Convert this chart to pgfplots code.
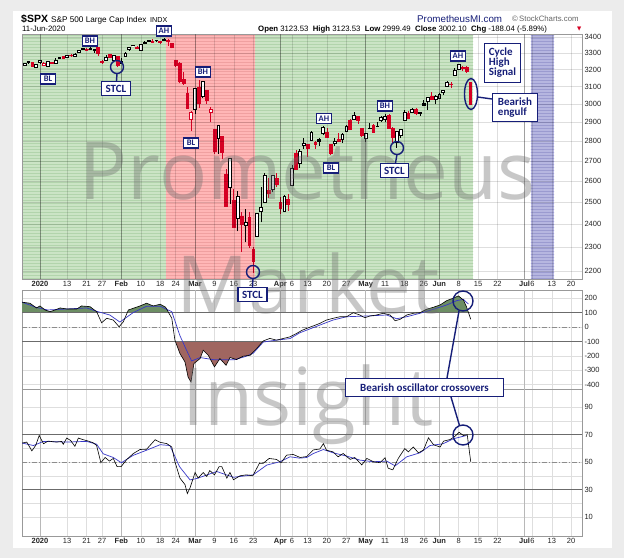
\documentclass[border=0pt]{standalone}
\usepackage{fontspec}
\setmainfont{Liberation Sans}
\newfontfamily\wmfont{Open Sans}
\newfontfamily\anfont{Carlito}
\newfontfamily\dejavu{DejaVu Sans}
\usepackage{pgfplots}
\pgfplotsset{compat=1.18}
\usepackage{pgfplotstable}
\usetikzlibrary{patterns}

\definecolor{framegray}{RGB}{236,236,236}
\definecolor{bggreen}{RGB}{203,228,197}
\definecolor{bggreenl}{RGB}{178,212,172}
\definecolor{bgred}{RGB}{255,182,182}
\definecolor{bgredl}{RGB}{240,160,160}
\definecolor{bgpurple}{RGB}{182,182,224}
\definecolor{bgpurplel}{RGB}{155,155,208}
\definecolor{navy}{RGB}{22,30,120}
\definecolor{cred}{RGB}{214,0,35}
\definecolor{ccigreen}{RGB}{108,142,100}
\definecolor{ccibrown}{RGB}{160,102,96}
\definecolor{sigblue}{RGB}{55,55,200}
\definecolor{wmgray}{RGB}{110,110,110}

\newcommand{\tf}{\fontsize{7.5}{8}\selectfont}

\pgfplotstableread{
i o h l c k
-4 3227.20 3240.08 3227.20 3239.91 1
-3 3247.23 3247.93 3234.37 3240.02 4
-2 3240.09 3240.92 3216.57 3221.29 2
-1 3215.18 3231.72 3212.03 3230.78 1
0 3244.67 3258.14 3235.53 3257.85 1
1 3226.36 3246.15 3222.34 3234.85 3
2 3217.55 3246.84 3214.64 3246.28 1
3 3241.86 3244.91 3232.43 3237.18 2
4 3238.59 3267.07 3236.67 3253.05 1
5 3266.03 3275.58 3263.67 3274.70 1
6 3281.81 3282.99 3262.66 3265.35 2
7 3271.13 3288.13 3268.43 3288.13 1
8 3285.35 3294.25 3277.19 3283.15 2
9 3282.27 3298.66 3280.69 3289.29 1
10 3302.97 3317.11 3302.82 3316.81 1
11 3323.66 3329.88 3318.86 3329.62 1
12 3321.03 3329.79 3316.61 3320.79 2
13 3330.02 3337.77 3320.04 3321.75 4
14 3315.77 3326.88 3301.87 3325.54 1
15 3333.10 3333.18 3281.53 3295.47 2
16 3247.16 3258.85 3234.50 3243.63 2
17 3255.35 3285.78 3253.22 3276.24 1
18 3289.46 3293.47 3271.89 3273.40 2
19 3256.45 3285.91 3242.80 3283.66 1
20 3282.33 3282.33 3214.68 3225.52 2
21 3235.66 3268.44 3235.66 3248.92 1
22 3280.61 3306.92 3280.61 3297.59 1
23 3324.91 3337.58 3313.75 3334.69 1
24 3344.92 3347.96 3334.39 3345.78 1
25 3335.54 3341.42 3322.12 3327.71 2
26 3318.28 3352.26 3317.77 3352.09 1
27 3365.87 3375.63 3352.72 3357.75 4
28 3370.50 3381.47 3369.72 3379.45 1
29 3365.90 3385.09 3360.52 3373.94 3
30 3378.08 3380.69 3366.15 3380.16 1
31 3369.04 3375.01 3355.61 3370.29 3
32 3380.39 3393.52 3378.83 3386.15 1
33 3380.45 3389.15 3341.02 3373.23 2
34 3360.50 3360.76 3328.45 3337.75 2
35 3257.61 3259.81 3214.65 3225.89 2
36 3238.94 3246.99 3118.77 3128.21 2
37 3139.90 3182.51 3108.99 3116.39 2
38 3062.54 3097.07 2977.39 2978.76 2
39 2916.90 2959.72 2855.84 2954.22 3
40 2974.28 3090.96 2945.19 3090.23 1
41 3096.46 3136.72 2976.63 3003.37 2
42 3045.75 3130.97 3034.38 3130.12 1
43 3075.70 3083.04 2999.83 3023.94 2
44 2954.20 2985.93 2901.54 2972.37 3
45 2863.89 2863.89 2734.43 2746.56 2
46 2813.48 2882.59 2734.00 2882.23 1
47 2825.60 2825.60 2707.22 2741.38 2
48 2630.86 2660.95 2478.86 2480.64 2
49 2569.99 2711.33 2492.37 2711.02 1
50 2508.59 2562.98 2380.94 2386.13 2
51 2425.66 2553.93 2367.04 2529.19 1
52 2436.50 2453.57 2280.52 2398.10 2
53 2393.48 2466.97 2319.78 2409.39 1
54 2431.94 2453.01 2295.56 2304.92 2
55 2290.71 2300.73 2191.86 2237.40 2
56 2344.44 2449.71 2344.44 2447.33 1
57 2457.77 2571.42 2407.53 2475.56 1
58 2501.29 2637.01 2500.72 2630.07 1
59 2555.87 2615.91 2520.02 2541.47 2
60 2558.98 2631.80 2545.28 2626.65 1
61 2614.69 2641.39 2571.15 2584.59 2
62 2498.08 2522.75 2447.49 2470.50 2
63 2458.54 2533.22 2455.79 2526.90 1
64 2514.92 2538.18 2459.96 2488.65 2
65 2578.28 2676.85 2574.57 2663.68 1
66 2738.65 2756.89 2657.67 2659.41 2
67 2685.00 2760.75 2663.30 2749.98 1
68 2776.99 2818.57 2762.36 2789.82 1
69 2782.46 2782.46 2721.17 2761.63 2
70 2805.10 2851.85 2805.10 2846.06 1
71 2795.64 2801.88 2761.54 2783.36 2
72 2812.64 2815.83 2775.95 2799.55 4
73 2842.43 2879.22 2830.88 2874.56 1
74 2845.62 2868.98 2820.43 2823.16 2
75 2784.81 2785.54 2727.10 2736.56 2
76 2787.89 2815.10 2775.95 2799.31 1
77 2810.42 2844.90 2794.26 2797.80 2
78 2812.64 2842.71 2791.76 2836.74 1
79 2854.65 2887.72 2852.89 2878.48 1
80 2909.96 2921.15 2860.71 2863.39 2
81 2918.46 2954.86 2912.16 2939.51 1
82 2930.91 2930.91 2892.47 2912.43 2
83 2869.09 2869.09 2821.61 2830.71 2
84 2815.01 2844.24 2797.85 2842.74 1
85 2868.88 2898.23 2863.55 2868.44 4
86 2883.14 2891.11 2847.65 2848.42 2
87 2878.26 2901.92 2876.48 2881.19 1
88 2908.83 2932.16 2902.88 2929.80 1
89 2915.46 2944.25 2903.44 2930.32 1
90 2939.50 2945.82 2869.59 2870.12 2
91 2865.86 2874.14 2793.15 2820.00 2
92 2794.54 2852.80 2766.64 2852.50 1
93 2829.95 2865.01 2816.78 2863.70 1
94 2913.86 2968.09 2913.86 2953.91 1
95 2948.59 2964.21 2922.35 2922.94 2
96 2953.63 2980.29 2953.63 2971.61 1
97 2969.95 2978.50 2938.57 2948.51 2
98 2948.05 2956.76 2933.59 2955.45 1
99 3004.08 3021.72 2988.17 2991.77 4
100 3015.65 3036.25 2969.75 3036.13 1
101 3046.61 3068.67 3023.40 3029.73 2
102 3025.17 3049.17 2998.61 3044.31 1
103 3031.15 3062.18 3031.15 3055.73 1
104 3064.78 3081.07 3051.64 3080.82 1
105 3098.90 3130.94 3098.90 3122.87 1
106 3111.56 3128.91 3090.41 3112.35 3
107 3163.84 3211.72 3163.84 3193.93 1
108 3199.92 3233.13 3196.00 3232.39 1
109 3213.32 3222.71 3193.11 3207.18 2
110 3213.42 3223.27 3181.49 3190.14 2
111 3123.53 3123.53 2999.49 3002.10 2
}\candles
\pgfplotstablegetrowsof{\candles}
\pgfmathtruncatemacro{\lastrow}{\pgfplotsretval-1}

\pgfplotsset{panel/.style={
  scale only axis, width=560pt, xmin=-4.64, xmax=139.8,
  axis line style={draw=black!40, line width=0.5pt},
  major tick length=0pt, minor tick length=0pt,
  xtick={0,7,12,16,21,26,31,35,40,45,50,55,62,65,69,74,79,84,89,94,99,103,108,113,118,125,127,132,137},
  xticklabels={\textbf{2020},13,21,27,\textbf{Feb},10,18,24,\textbf{Mar},9,16,23,\textbf{Apr},6,13,20,27,\textbf{May},11,18,26,\textbf{Jun},8,15,22,\textbf{Jul},6,13,20},
  grid=major, major grid style={draw=black!13, line width=0.5pt},
  extra x ticks={0,21,40,62,84,103,125}, extra x tick labels={},
  extra x tick style={grid=major, major grid style={draw=black!28, line width=0.6pt}},
  yticklabel pos=right, ticklabel style={font=\tf, text=black!85},
  yticklabel style={anchor=west, xshift=-1pt},
  xticklabel style={yshift=1pt},
}}

\begin{document}
\begin{tikzpicture}
\fill[framegray] (0,0) rectangle (624pt,558pt);
\fill[white] (13pt,10pt) rectangle (612pt,547pt);

% ---------------- price panel ----------------
\begin{axis}[panel, at={(22pt,279pt)}, anchor=south west, height=245pt,
  ymode=log, ymin=2167, ymax=3419, axis on top,
  major grid style={draw=black, opacity=0.13, line width=0.5pt},
  extra x tick style={grid=major, major grid style={draw=black, opacity=0.28, line width=0.6pt}},
  ytick={2200,2300,2400,2500,2600,2700,2800,2900,3000,3100,3200,3300,3400},
  yticklabels={2200,2300,2400,2500,2600,2700,2800,2900,3000,3100,3200,3300,3400},
  minor ytick={}]
\fill[bggreen] (axis cs:-4.64,2167) rectangle (axis cs:111.7,3419);
\fill[pattern=horizontal lines, pattern color=bggreenl] (axis cs:-4.64,2167) rectangle (axis cs:111.7,3419);
\fill[bgred] (axis cs:32.5,2167) rectangle (axis cs:55.5,3419);
\fill[pattern=horizontal lines, pattern color=bgredl] (axis cs:32.5,2167) rectangle (axis cs:55.5,3419);
\fill[bgpurple] (axis cs:126.6,2167) rectangle (axis cs:132.6,3419);
\fill[pattern=horizontal lines, pattern color=bgpurplel] (axis cs:126.6,2167) rectangle (axis cs:132.6,3419);
\pgfplotsinvokeforeach{0,...,\lastrow}{%
  \pgfplotstablegetelem{#1}{i}\of\candles\let\ci\pgfplotsretval
  \pgfplotstablegetelem{#1}{o}\of\candles\let\co\pgfplotsretval
  \pgfplotstablegetelem{#1}{h}\of\candles\let\ch\pgfplotsretval
  \pgfplotstablegetelem{#1}{l}\of\candles\let\cl\pgfplotsretval
  \pgfplotstablegetelem{#1}{c}\of\candles\let\cc\pgfplotsretval
  \pgfplotstablegetelem{#1}{k}\of\candles\let\ck\pgfplotsretval
  \pgfmathsetmacro{\xa}{\ci-0.36}%
  \pgfmathsetmacro{\xb}{\ci+0.36}%
  \ifnum\ck=1 \def\ccol{black}\def\cfil{white}\fi
  \ifnum\ck=2 \def\ccol{cred}\def\cfil{cred}\fi
  \ifnum\ck=3 \def\ccol{cred}\def\cfil{white}\fi
  \ifnum\ck=4 \def\ccol{black}\def\cfil{black}\fi
  \edef\temp{\noexpand\draw[draw=\ccol, line width=0.75pt] (axis cs:\ci,\cl) -- (axis cs:\ci,\ch);
    \noexpand\filldraw[draw=\ccol, fill=\cfil, line width=0.65pt] (axis cs:\xa,\co) rectangle (axis cs:\xb,\cc);}%
  \temp
}
\end{axis}

% ---------------- CCI panel ----------------
\begin{axis}[panel, at={(22pt,169pt)}, anchor=south west, height=99pt,
  ymin=-431, ymax=258, xticklabels={},
  ytick={-400,-300,-200,-100,0,100,200},
  yticklabels={-400,-300,-200,-100,0,100,200}]
% areas between the CCI and the +100 / -100 levels
\addplot[fill=ccigreen, draw=none, forget plot] coordinates {(-4.6,100) (-4.6,173) (-2.6,166) (-0.9,133) (0,147) (1.3,119) (2.6,107) (3.9,119) (5.2,133) (6.9,126) (9.5,126) (10.7,147) (12.9,142) (14.6,107) (14.72,100)};
\addplot[fill=ccigreen, draw=none, forget plot] coordinates {(22.5,100) (22.8,119) (24.1,131) (25.8,147) (27.5,166) (29.2,147) (31,159) (32.4,138) (33.19,100)};
\addplot[fill=ccigreen, draw=none, forget plot] coordinates {(98,100) (99.7,124) (101.5,138) (103.2,154) (104.9,184) (106.6,201) (107.9,217) (109.2,189) (110,142) (110.53,100)};
\addplot[fill=ccibrown, draw=none, forget plot] coordinates {(34.93,-100) (36.1,-184) (37.4,-243) (38.2,-348) (38.95,-382) (39.7,-254) (41.3,-219) (42.1,-161) (43.4,-196) (45,-277) (46.4,-219) (48,-266) (49,-212) (50.7,-226) (52.4,-203) (54.2,-196) (55.9,-149) (57.47,-100)};
\addplot[draw=black!58, line width=0.7pt, forget plot] coordinates {(-4.64,100) (139.8,100)};
\addplot[draw=black!58, line width=0.7pt, forget plot] coordinates {(-4.64,-100) (139.8,-100)};
\addplot[draw=black!45, dash pattern=on 5pt off 2pt on 1pt off 2pt, line width=0.5pt, forget plot] coordinates {(-4.64,0) (139.8,0)};
\addplot[draw=sigblue, line width=0.7pt, forget plot] coordinates {
(-4.6,173) (-1,137) (2,119) (7,126) (12,133) (14.6,110) (18,84) (20.6,35) (24,100) (27.5,145) (31,145) (34,107) (36.1,-60) (37.8,-161) (39.1,-236) (41.3,-212) (45,-228) (50,-228) (53,-205) (55,-182) (57.6,-104) (61,-91) (64.5,-80) (67,-40) (72,12) (75.6,49) (79.1,72) (84.3,77) (89.4,84) (92,58) (94.6,72) (98,96) (101.5,124) (104.9,154) (107.5,184) (109.2,193) (110.5,160)};
\addplot[draw=black, line width=0.6pt, forget plot] coordinates {
(-4.6,173) (-2.6,166) (-0.9,133) (0,147) (1.3,119) (2.6,107) (3.9,119) (5.2,133) (6.9,126) (9.5,126) (10.7,147) (12.9,142) (14.6,107) (15.9,30) (17.2,61) (18.9,49) (20.4,2) (21.5,37) (22.8,119) (24.1,131) (25.8,147) (27.5,166) (29.2,147) (31,159) (32.4,138) (34,61) (34.8,-91) (36.1,-184) (37.4,-243) (38.2,-348) (38.95,-382) (39.7,-254) (41.3,-219) (42.1,-161) (43.4,-196) (45,-277) (46.4,-219) (48,-266) (49,-212) (50.7,-226) (52.4,-203) (54.2,-196) (55.9,-149) (57.6,-96) (59.3,-79) (61,-91) (62.8,-79) (64.5,-68) (66.2,-44) (67.5,-24) (68.8,-9) (70.5,8) (72.2,26) (73.9,49) (75.6,61) (77.4,72) (79.1,72) (80.8,100) (82.5,84) (83.8,65) (85.1,77) (86.8,84) (88.5,96) (90.3,84) (91.6,44) (92.9,54) (94.6,84) (96.3,96) (98,100) (99.7,124) (101.5,138) (103.2,154) (104.9,184) (106.6,201) (107.9,217) (109.2,189) (110,142) (111.1,54)};
\end{axis}

% ---------------- RSI panel ----------------
\begin{axis}[panel, at={(22pt,22pt)}, anchor=south west, height=147pt,
  ymin=-3.8, ymax=103.1,
  ytick={10,30,50,70,90}, yticklabels={10,30,50,70,90},
  minor ytick={20,40,60,80}, grid=both,
  minor grid style={draw=black!13, line width=0.5pt}]
\addplot[draw=black!58, line width=0.7pt, forget plot] coordinates {(-4.64,70) (139.8,70)};
\addplot[draw=black!58, line width=0.7pt, forget plot] coordinates {(-4.64,30) (139.8,30)};
\addplot[draw=black!45, dash pattern=on 5pt off 2pt on 1pt off 2pt, line width=0.5pt, forget plot] coordinates {(-4.64,50) (139.8,50)};
\addplot[draw=sigblue, line width=0.7pt, forget plot] coordinates {
(-4.6,63.8) (-1.7,62) (0.9,65) (6.9,64.5) (12,65) (14.6,63) (16.3,56) (18.9,53.3) (21,49.5) (24,54.8) (27.5,58.6) (31,62.6) (33.5,62) (36,46.6) (38.7,37) (40.4,38) (45.6,43.1) (49.9,38.9) (55,40.7) (58.5,47.8) (61.9,50.2) (64.5,53.8) (67,52.8) (68.8,53.3) (70.5,56.2) (73.1,59.1) (75.6,56.7) (79.1,54.3) (82.5,51.4) (86,50.2) (89.4,50.7) (91.6,47.2) (94.6,53.8) (98,56.7) (100.6,62) (104,63.3) (106.6,66.9) (110,69.3)};
\addplot[draw=black, line width=0.6pt, forget plot] coordinates {
(-4.6,63.8) (-3.4,64.5) (-2.1,58.1) (-1.1,62.1) (-0.2,69.3) (0.9,63.3) (2.1,65.2) (4.3,64.5) (5.6,65) (6,62.9) (6.9,67.4) (7.9,65.7) (9,61.4) (9.9,67.4) (11.2,66.2) (12.5,65.2) (13.7,64) (14.6,62.1) (15.7,49.5) (16.8,53.3) (17.9,50.7) (18.9,52.6) (19.9,46.6) (20.9,46.6) (22.4,51.9) (24.1,56.2) (25.8,59.1) (27.5,59.3) (29.7,66.2) (31,64.3) (32.7,63.4) (34,60.9) (34.8,50.2) (36.1,38.3) (37.4,33.6) (38,27.1) (38.7,31.2) (40,42.4) (40.8,38.3) (42.1,42.4) (43,39.5) (43.8,43.8) (45,40.7) (46.2,46.6) (46.9,46.6) (48.2,38.3) (49,42.4) (49.9,37.1) (51.6,40) (53.3,40.7) (54.9,40) (56.6,49.1) (57.6,49.1) (59.1,52.6) (61,51.9) (62.2,49.5) (63.6,55) (65.3,55.5) (67.1,53.3) (68.8,54) (70.5,58.8) (72.2,59.5) (73.1,63.4) (73.9,58.6) (75.6,57.4) (76.9,53.8) (78.2,56.2) (80,51.9) (81.2,53.3) (83,47.9) (84.3,52.6) (86,50.2) (87.7,49.5) (89,53.1) (89.8,45.5) (91,44.3) (92.4,52.6) (94.1,59.8) (95,57.4) (96.3,60.9) (97.6,56.7) (98.9,58.6) (100.2,67.6) (101.5,62.6) (103.2,60.9) (104.1,65.2) (105.8,66.4) (107,68.6) (108.1,71.6) (109.2,69.3) (110.2,69.8) (111.1,50.2)};
\end{axis}

% ---------------- overlays (pixel coordinates from the top) ----------------
\begin{scope}[shift={(0pt,558pt)}, x=1pt, y=-1pt]
\node[anchor=base west, inner sep=0, font=\bfseries\fontsize{10.5}{11}\selectfont] at (21,23) {\$SPX};
\node[anchor=base west, inner sep=0, font=\fontsize{8.2}{9}\selectfont] at (51,22.5) {S\&P 500 Large Cap Index};
\node[anchor=base west, inner sep=0, font=\fontsize{7.2}{8}\selectfont] at (150,22.5) {INDX};
\node[anchor=base west, inner sep=0, font=\fontsize{7.8}{8}\selectfont] at (22,31.5) {11-Jun-2020};
\node[anchor=base west, inner sep=0, font=\fontsize{9.8}{10}\selectfont, text=navy] at (417,22.5) {PrometheusMI.com};
\node[anchor=base west, inner sep=0, font=\fontsize{7.8}{8}\selectfont, text=black!60] at (512,21.5) {\textcopyright\,StockCharts.com};
\node[anchor=base west, inner sep=0, font=\fontsize{7.8}{8}\selectfont] at (258,31.5) {\textbf{Open} 3123.53 \ \textbf{High} 3123.53 \ \textbf{Low} 2999.49 \ \textbf{Close} 3002.10 \ \textbf{Chg} -188.04 (-5.89\%)};
\node[anchor=base west, inner sep=0, font=\dejavu\fontsize{5.5}{6}\selectfont, text=cred] at (577,30.5) {▼};
\begin{scope}[every node/.style={anchor=base, inner sep=0, font=\wmfont\fontsize{80}{80}\selectfont, text=wmgray, text opacity=0.38}]
\node at (308,200) {Prometheus};
\node at (308,313) {Market};
\node at (308,425) {Insight};
\end{scope}
\tikzset{sl/.style={draw=navy, line width=1.2pt, fill=white, text=navy, font=\anfont\bfseries\fontsize{8.5}{9}\selectfont, inner sep=0.5pt, minimum width=14.5pt, minimum height=10pt},
 bl/.style={draw=navy, line width=1.3pt, fill=white, text=navy, font=\anfont\bfseries\fontsize{11}{12}\selectfont, inner sep=1pt, align=left},
 cl/.style={draw=navy, line width=1.4pt}}
\node[sl] at (48,79) {BL};
\node[sl] at (90,41) {BH};
\node[sl] at (164,31) {AH};
\node[sl] at (203,72) {BH};
\node[sl] at (191,143) {BL};
\node[sl] at (324,118.5) {AH};
\node[sl] at (331,168) {BL};
\node[sl] at (385,106) {BH};
\node[sl] at (458,56) {AH};
\draw[cl] (117,67) circle (6.5pt);
\draw[cl] (117,73.5) -- (116.5,81);
\node[bl, minimum width=29pt, minimum height=14pt, align=center] at (116,88.5) {STCL};
\draw[cl] (253,272) circle (6.5pt);
\draw[cl] (253,278.5) -- (252.5,287);
\node[bl, minimum width=29pt, minimum height=14pt, align=center] at (252.5,294.5) {STCL};
\draw[cl] (397,148) circle (6.5pt);
\draw[cl] (397,154.5) -- (395.5,163);
\node[bl, minimum width=28pt, minimum height=14pt, align=center] at (394.5,170.5) {STCL};
\node[bl, minimum width=36pt, minimum height=39pt, inner xsep=3pt] at (502.5,63) {Cycle\\[-2pt]High\\[-2pt]Signal};
\draw[cl] (471,94) ellipse (6.5pt and 15.5pt);
\draw[cl] (477.5,97) -- (492,99);
\node[bl, minimum width=45pt, minimum height=28pt, inner xsep=3pt] at (515,107.5) {Bearish\\[-2pt]engulf};
\draw[cl] (463,301) circle (10pt);
\draw[cl] (459,311) -- (447,378);
\draw[cl] (463,435) circle (10pt);
\draw[cl] (451,397) -- (459.5,425.5);
\node[bl, minimum width=158pt, minimum height=18pt, align=center] at (424.5,387.5) {Bearish oscillator crossovers};
\end{scope}
\pgfresetboundingbox
\path[use as bounding box] (0,0) rectangle (624pt,558pt);
\end{tikzpicture}
\end{document}
